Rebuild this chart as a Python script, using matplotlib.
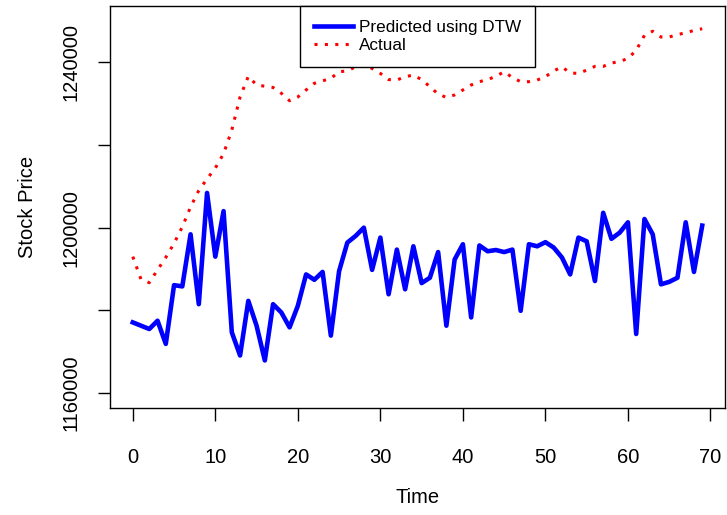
import numpy as np
import matplotlib
matplotlib.use("Agg")
import matplotlib.pyplot as plt

plt.rcParams['font.family'] = ['Liberation Sans', 'DejaVu Sans']

# time index 0..69
time = np.arange(70)

# predicted price (DTW)
predicted = [
    1177100, 1176300, 1175500, 1177500, 1171900, 1186100, 1185800, 1198400, 1181500, 1208400,
    1193000, 1204000, 1174700, 1169100, 1182300, 1176300, 1167900, 1181500, 1179500, 1175900,
    1181100, 1188700, 1187400, 1189300, 1173900, 1189500, 1196400, 1198000, 1200000, 1189800,
    1197600, 1183900, 1194700, 1185100, 1195500, 1186600, 1187900, 1194100, 1176300, 1192300,
    1196000, 1178300, 1195700, 1194300, 1194600, 1194100, 1194700, 1179900, 1196000, 1195500,
    1196500, 1195200, 1192800, 1188700, 1197600, 1196700, 1187100, 1203600, 1197300, 1198800,
    1201300, 1174300, 1202100, 1198400, 1186300, 1186900, 1187900, 1201300, 1189300, 1200500,
]

# actual price
actual = [
    1193000, 1187500, 1186700, 1189800, 1192800, 1196200, 1200200, 1205000, 1209000, 1211800,
    1214400, 1217900, 1223600, 1231600, 1236600, 1234500, 1234200, 1233900, 1232500, 1230700,
    1231600, 1233300, 1234900, 1235500, 1236100, 1237700, 1237900, 1238900, 1239300, 1238500,
    1237300, 1235800, 1235700, 1236500, 1236900, 1235800, 1234100, 1232300, 1231500, 1232100,
    1233300, 1234500, 1235300, 1235800, 1236600, 1237700, 1236300, 1235300, 1235300, 1235700,
    1236500, 1237900, 1238900, 1237400, 1237300, 1238100, 1239000, 1239000, 1239800, 1240200,
    1240900, 1242900, 1246500, 1247500, 1246100, 1246100, 1246700, 1247100, 1247700, 1248100,
]

yticks = [1160000, 1180000, 1200000, 1220000, 1240000]
ylabels = ["1160000", "", "1200000", "", "1240000"]
xticks = [0, 10, 20, 30, 40, 50, 60, 70]

fig = plt.figure(figsize=(7.27, 5.15), dpi=100)
ax = fig.add_axes([110 / 727, 107 / 515, 615 / 727, 402 / 515])

ax.plot(time, predicted, color="#0000ff", lw=3.3, solid_joinstyle="round",
        label="Predicted using DTW")
ax.plot(time, actual, color="#ff0000", lw=2.2, linestyle=(0, (1, 2.4)),
        dash_capstyle="butt", label="Actual")

xr = 69 * 0.04
ax.set_xlim(0 - xr, 69 + xr)
ax.set_ylim(1160000 - 3600, 1250000 + 3600)

ax.set_xticks(xticks)
ax.set_yticks(yticks)
ax.set_yticklabels(ylabels, rotation=90, va="center")
ax.tick_params(axis="both", direction="out", length=9, width=1, labelsize=14.5,
               colors="black")
ax.tick_params(axis="x", pad=19.5)
ax.tick_params(axis="y", pad=12)

for s in ax.spines.values():
    s.set_linewidth(1)
    s.set_color("black")

ax.set_xlabel("Time", fontsize=14.5, labelpad=15.5)
ax.set_ylabel("Stock Price", fontsize=14.5, labelpad=18)

leg = ax.legend(loc="upper center", fontsize=12.3, borderaxespad=0,
                handlelength=2.3, handletextpad=0.35, borderpad=0.8,
                labelspacing=0.22, fancybox=False, framealpha=1)
leg.get_frame().set_edgecolor("black")
leg.get_frame().set_linewidth(1)

fig.savefig("out.png", dpi=100)
